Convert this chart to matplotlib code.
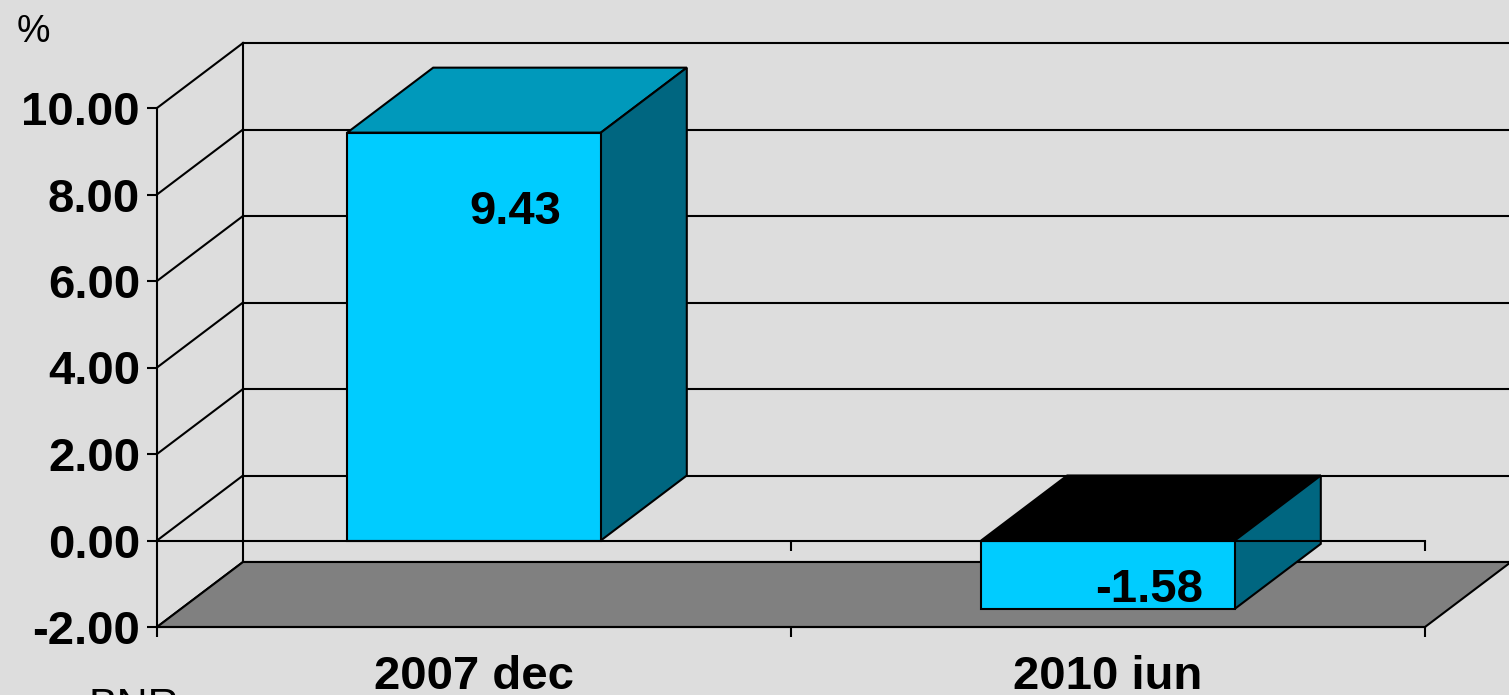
import numpy as np
import matplotlib
matplotlib.use("Agg")
import matplotlib.pyplot as plt
from matplotlib.patches import Polygon
from matplotlib.lines import Line2D
from matplotlib.transforms import IdentityTransform
from matplotlib.ticker import FixedLocator, FixedFormatter

# ---- data ----
categories = ["2007 dec", "2010 iun"]
values = [9.43, -1.58]
value_labels = ["9.43", "-1.58"]
y_ticks = [-2, 0, 2, 4, 6, 8, 10]
y_tick_labels = ["-2.00", "0.00", "2.00", "4.00", "6.00", "8.00", "10.00"]
unit_label = "%"
source_label = "BNR"

# ---- style / layout ----
W, H, DPI = 1509, 695, 100
BG = "#DDDDDD"
FLOOR = "#808080"
FRONT = "#00CCFF"
TOP_POS = "#0099BB"
TOP_NEG = "#000000"
SIDE = "#006680"
DX, DY = 86, 65          # depth offset in pixels
BAR_W = 0.4
LW = 1.5
FONT = "Liberation Sans"
LABEL_OFFSETS = [(41, -79), (41, 19)]  # pixel offsets of value labels

plt.rcParams["font.family"] = [FONT, "DejaVu Sans"]
plt.rcParams["axes.unicode_minus"] = False

fig = plt.figure(figsize=(W / DPI, H / DPI), dpi=DPI, facecolor=BG)
ax = fig.add_axes([157 / W, (H - 627) / H, (1425 - 157) / W, (627 - 108) / H])
ax.set_facecolor("none")
ax.set_xlim(0, len(categories))
ax.set_ylim(min(y_ticks), max(y_ticks))

for s in ["top", "right"]:
    ax.spines[s].set_visible(False)
for s in ["left", "bottom"]:
    ax.spines[s].set_linewidth(LW)
    ax.spines[s].set_zorder(12)

ax.yaxis.set_major_locator(FixedLocator(y_ticks))
ax.yaxis.set_major_formatter(FixedFormatter(y_tick_labels))
ax.tick_params(axis="y", length=10 * 0.72, width=LW, pad=5,
               labelsize=34)
for t in ax.get_yticklabels():
    t.set_fontweight("bold")

ncat = len(categories)
ax.xaxis.set_major_locator(FixedLocator(list(range(ncat + 1))))
ax.xaxis.set_major_formatter(FixedFormatter([""] * (ncat + 1)))
ax.xaxis.set_minor_locator(FixedLocator([i + 0.5 for i in range(ncat)]))
ax.xaxis.set_minor_formatter(FixedFormatter(categories))
ax.tick_params(axis="x", which="major", length=10 * 0.72, width=LW)
ax.tick_params(axis="x", which="minor", length=0, pad=20, labelsize=34)
for t in ax.get_xticklabels(minor=True):
    t.set_fontweight("bold")


def P(x, y, d):
    p = ax.transData.transform((x, y))
    return p + d * np.array([DX, DY])


def poly(pts, fc, z, ec="black"):
    ax.add_patch(Polygon(np.array(pts), closed=True, facecolor=fc,
                         edgecolor=ec, linewidth=LW, transform=IdentityTransform(),
                         clip_on=False, zorder=z, joinstyle="miter"))


def line(p0, p1, z, lw=LW):
    pts = np.array([p0, p1])
    ax.add_line(Line2D(pts[:, 0], pts[:, 1], color="black", linewidth=lw,
                       transform=IdentityTransform(), clip_on=False, zorder=z))


ymin, ymax = min(y_ticks), max(y_ticks)
# back wall
for yv in y_ticks:
    line(P(0, yv, 1), P(ncat, yv, 1), 1)
line(P(0, ymin, 1), P(0, ymax, 1), 1)
# side wall diagonals
for yv in y_ticks:
    line(P(0, yv, 0), P(0, yv, 1), 1)
# floor
poly([P(0, ymin, 0), P(ncat, ymin, 0), P(ncat, ymin, 1), P(0, ymin, 1)], FLOOR, 2)

# bars
for i, v in enumerate(values):
    x0, x1 = i + 0.5 - BAR_W / 2, i + 0.5 + BAR_W / 2
    lo, hi = min(0, v), max(0, v)
    top_col = TOP_POS if v >= 0 else TOP_NEG
    poly([P(x0, hi, 0), P(x1, hi, 0), P(x1, hi, 1), P(x0, hi, 1)], top_col, 4)
    poly([P(x1, lo, 0), P(x1, hi, 0), P(x1, hi, 1), P(x1, lo, 1)], SIDE, 4)
    poly([P(x0, lo, 0), P(x1, lo, 0), P(x1, hi, 0), P(x0, hi, 0)], FRONT, 5)
    dx, dy = LABEL_OFFSETS[i]
    ax.annotate(value_labels[i], xy=(i + 0.5, v), xytext=(dx * 0.72, dy * 0.72),
                textcoords="offset points", ha="center", va="center",
                fontsize=34, fontweight="bold", zorder=8, annotation_clip=False)

# zero category line with ticks
ax.axhline(0, color="black", linewidth=LW, zorder=10, clip_on=False)
ax.plot(list(range(1, ncat + 1)), [0] * ncat, linestyle="none", marker=3,
        markersize=10 * 0.72, markeredgewidth=LW, color="black", zorder=10,
        clip_on=False)

fig.text(17 / W, 1 - 14 / H, unit_label, ha="left", va="top", fontsize=27)
fig.text(88 / W, 1 - 687 / H, source_label, ha="left", va="top", fontsize=31)

fig.savefig("out.png", dpi=DPI, facecolor=BG)
